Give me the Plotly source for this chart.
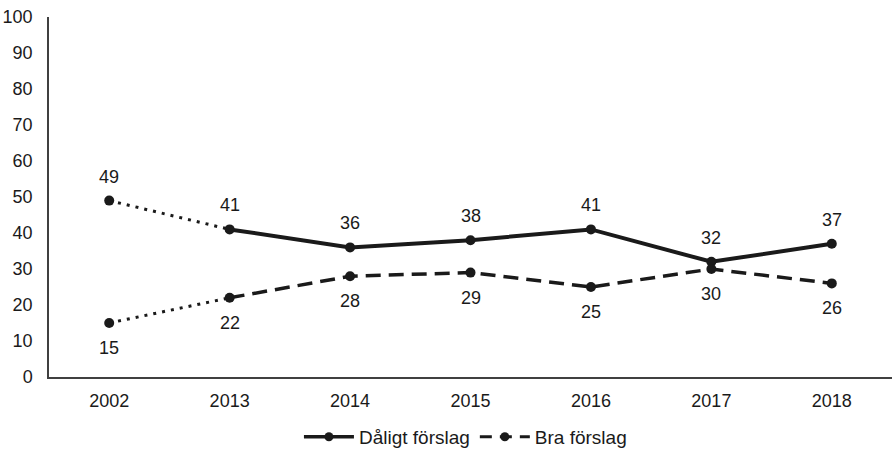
import plotly.graph_objects as go

years = ["2002", "2013", "2014", "2015", "2016", "2017", "2018"]
dalig = [49, 41, 36, 38, 41, 32, 37]
bra = [15, 22, 28, 29, 25, 30, 26]
y_ticks = [0, 10, 20, 30, 40, 50, 60, 70, 80, 90, 100]

INK = "#1a1a1a"
FONT = "Liberation Sans, Arial, sans-serif"
FS = 18

fig = go.Figure()

# dotted 2002-2013 links (not in legend)
fig.add_trace(go.Scatter(x=years[:2], y=dalig[:2], mode="lines",
                         line=dict(color=INK, width=3, dash="3px,6px"),
                         showlegend=False, hoverinfo="skip"))
fig.add_trace(go.Scatter(x=years[:2], y=bra[:2], mode="lines",
                         line=dict(color=INK, width=3, dash="3px,6px"),
                         showlegend=False, hoverinfo="skip"))

# main series
fig.add_trace(go.Scatter(x=years[1:], y=dalig[1:], mode="lines",
                         line=dict(color=INK, width=4),
                         showlegend=False, hoverinfo="skip"))
fig.add_trace(go.Scatter(x=years[1:], y=bra[1:], mode="lines",
                         line=dict(color=INK, width=3.5, dash="15px,8px"),
                         showlegend=False, hoverinfo="skip"))

# markers
fig.add_trace(go.Scatter(x=years, y=dalig, mode="markers", name="Dåligt förslag",
                         marker=dict(color=INK, size=10), showlegend=False))
fig.add_trace(go.Scatter(x=years, y=bra, mode="markers", name="Bra förslag",
                         marker=dict(color=INK, size=10), showlegend=False))

# legend entries
fig.add_trace(go.Scatter(x=[None], y=[None], mode="lines+markers", name="Dåligt förslag",
                         line=dict(color=INK, width=3.5), marker=dict(color=INK, size=9)))
fig.add_trace(go.Scatter(x=[None], y=[None], mode="lines+markers", name="Bra förslag",
                         line=dict(color=INK, width=3, dash="12px,8px"), marker=dict(color=INK, size=9)))

annotations = []
for i, v in enumerate(dalig):
    annotations.append(dict(x=i, y=v, xref="x", yref="y", text=str(v),
                            showarrow=False, yshift=24,
                            font=dict(size=FS, color=INK, family=FONT)))
for i, v in enumerate(bra):
    annotations.append(dict(x=i, y=v, xref="x", yref="y", text=str(v),
                            showarrow=False, yshift=-25,
                            font=dict(size=FS, color=INK, family=FONT)))

fig.update_layout(
    width=892, height=449,
    margin=dict(l=49, r=0, t=17, b=72),
    paper_bgcolor="white", plot_bgcolor="white",
    font=dict(family=FONT, size=FS, color=INK),
    annotations=annotations,
    xaxis=dict(type="category", categoryorder="array", categoryarray=years,
               showline=True, linecolor="#404040", linewidth=1.5, automargin=False,
               showgrid=False, ticks="", tickfont=dict(size=FS), range=[-0.5, 6.5],
               ticklabelstandoff=7),
    yaxis=dict(range=[0, 100], tickvals=y_ticks, showline=True, linecolor="#404040",
               linewidth=1.5, showgrid=False, zeroline=False, ticks="", automargin=False,
               tickfont=dict(size=FS), ticklabelstandoff=11, ticklabeloverflow="allow"),
    legend=dict(orientation="h", x=0.494, xanchor="center", xref="paper",
                y=0.027, yanchor="middle", yref="container",
                font=dict(size=19), itemwidth=50),
)

fig.write_html("out.html", config={"displayModeBar": False},
               post_script="document.body.style.margin='0px';")
